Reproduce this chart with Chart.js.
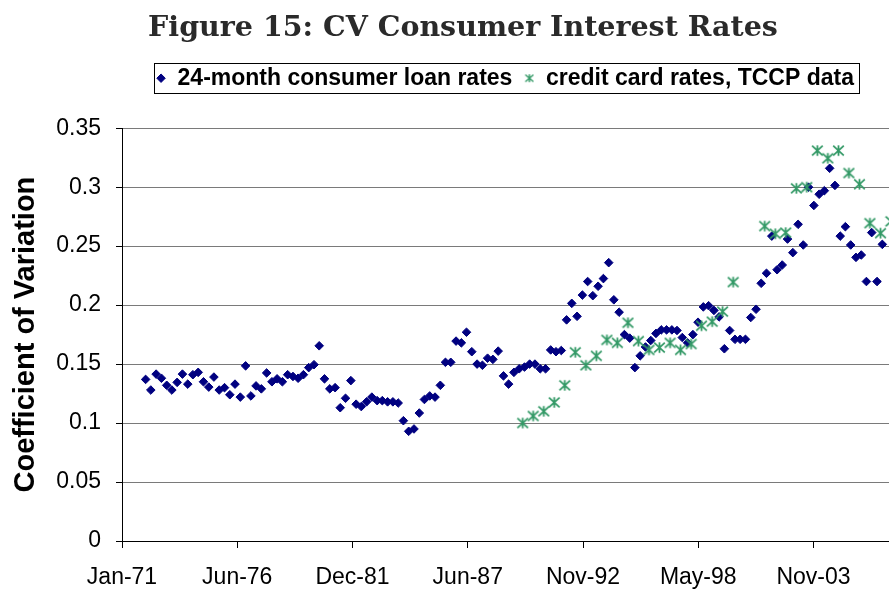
<!DOCTYPE html>
<html>
<head>
<meta charset="utf-8">
<script src="https://cdn.jsdelivr.net/npm/chart.js@4.4.1/dist/chart.umd.min.js"></script>
<style>
  body { margin: 0; background: #fff; }
</style>
</head>
<body>
<canvas id="cvChart" width="889" height="590"></canvas>
<script>
// 24-month loan rates: quarterly from Feb-72
const loanStart = [1972, 1];
const loanRates = [
  0.137, 0.128, 0.1415, 0.138, 0.132, 0.128, 0.1345, 0.1415, 0.133, 0.141,
  0.143, 0.135, 0.1305, 0.139, 0.128, 0.130, 0.124, 0.133, 0.122, 0.1485,
  0.123, 0.1315, 0.129, 0.1425, 0.135, 0.1375, 0.135, 0.141, 0.1395, 0.138,
  0.141, 0.147, 0.1495, 0.1655, 0.1375, 0.129, 0.130, 0.113, 0.121, 0.136,
  0.116, 0.114, 0.118, 0.122, 0.119, 0.119, 0.118, 0.118, 0.117, 0.102,
  0.093, 0.095, 0.1085, 0.120, 0.123, 0.122, 0.132, 0.1515, 0.1515, 0.1695,
  0.168, 0.177, 0.1605, 0.150, 0.149, 0.155, 0.154, 0.161, 0.140, 0.133,
  0.143, 0.146, 0.1475, 0.150, 0.150, 0.146, 0.146, 0.162, 0.1605, 0.1615,
  0.1875, 0.2015, 0.1905, 0.2085, 0.220, 0.208, 0.216, 0.2225, 0.236, 0.2045,
  0.194, 0.175, 0.172, 0.147, 0.157, 0.1645, 0.170, 0.176, 0.179, 0.179,
  0.179, 0.1785, 0.1725, 0.168, 0.175, 0.1855, 0.1985, 0.1995, 0.1955, 0.190,
  0.163, 0.1785, 0.171, 0.171, 0.171, 0.1895, 0.1965, 0.2185, 0.227, 0.2585,
  0.230, 0.234, 0.256, 0.2445, 0.2685, 0.251, 0.300, 0.2845, 0.294, 0.297,
  0.316, 0.3015, 0.2585, 0.2665, 0.251, 0.2405, 0.2425, 0.220, 0.2615, 0.220,
  0.2515
];

// TCCP credit card rates: Jan and Jul from Jan-90
const ccStart = [1990, 0];
const ccRates = [
  0.100, 0.106, 0.110, 0.1175, 0.132, 0.160, 0.149, 0.157, 0.1705, 0.168,
  0.185, 0.1695, 0.162, 0.164, 0.168, 0.162, 0.167, 0.1825, 0.186, 0.1945,
  0.2195, null, null, 0.267, 0.2605, 0.2615, 0.299, 0.300, 0.331, 0.3245,
  0.331, 0.312, 0.3025, 0.2695, 0.261, 0.271
];

// date axis: a label every 2000 days from 1 Jan 1971
const xTickLabels = ['Jan-71', 'Jun-76', 'Dec-81', 'Jun-87', 'Nov-92', 'May-98', 'Nov-03'];
const yTickLabels = ['0', '0.05', '0.1', '0.15', '0.2', '0.25', '0.3', '0.35'];

const DAY = 86400000;
const base = Date.UTC(1971, 0, 1);
function dayOf(y, m) {
  return Math.round((Date.UTC(y, m, 15) - base) / DAY);
}
function toPoints(start, step, vals) {
  return vals.map((v, i) => ({ x: dayOf(start[0], start[1] + i * step), y: v }));
}

// asterisk marker: vertical bar plus an X
function makeStar(color, size, lw) {
  const c = document.createElement('canvas');
  c.width = size;
  c.height = size;
  const g = c.getContext('2d');
  const m = size / 2, e = lw / 2 + 0.3;
  g.strokeStyle = color;
  g.lineWidth = lw;
  g.beginPath();
  g.moveTo(m, e); g.lineTo(m, size - e);
  g.moveTo(e, e + 0.5); g.lineTo(size - e, size - e - 0.5);
  g.moveTo(size - e, e + 0.5); g.lineTo(e, size - e - 0.5);
  g.stroke();
  return c;
}

const green = '#339966';
const navy = '#000080';
const plotStar = makeStar(green, 13, 1.8);
const legendStar = makeStar(green, 10, 1.4);
const sansFont = "'Liberation Sans', Arial, sans-serif";

// title and legend sit right of centre; legend gets a frame and room below it
const legendFrame = {
  id: 'legendFrame',
  beforeLayout(chart) {
    const lg = chart.legend;
    if (lg && !lg._padded) {
      const fit = lg.fit.bind(lg);
      lg.fit = function () { fit(); this.height += 28.5; };
      lg._padded = true;
    }
  },
  afterLayout(chart) {
    const lg = chart.legend;
    const dx = 511 - (lg.left + lg.right + 12) / 2;
    lg.left += dx;
    lg.right += dx;
    const tb = chart.titleBlock;
    tb.left += 18.5;
    tb.right += 18.5;
  },
  afterDraw(chart) {
    const hb = chart.legend.legendHitBoxes;
    if (!hb || !hb.length) return;
    const first = hb[0], last = hb[hb.length - 1];
    const x0 = Math.round(first.left - 2) + 0.5;
    const x1 = Math.round(last.left + last.width + 5) + 0.5;
    const y0 = Math.round(first.top - 4) + 0.5;
    const y1 = Math.round(first.top + first.height + 3) + 0.5;
    const ctx = chart.ctx;
    ctx.save();
    ctx.strokeStyle = '#000';
    ctx.lineWidth = 1;
    ctx.strokeRect(x0, y0, x1 - x0, y1 - y0);
    ctx.restore();
  }
};

window.addEventListener('DOMContentLoaded', () => {
  const ctx = document.getElementById('cvChart').getContext('2d');

  new Chart(ctx, {
    type: 'scatter',
    data: {
      datasets: [{
        label: '24-month consumer loan rates',
        data: toPoints(loanStart, 3, loanRates),
        pointStyle: 'rectRot',
        pointRadius: 4.3,
        borderWidth: 1,
        backgroundColor: navy,
        borderColor: navy,
        order: 1
      }, {
        label: 'credit card rates, TCCP data',
        data: toPoints(ccStart, 6, ccRates),
        pointStyle: plotStar,
        pointRadius: 6,
        backgroundColor: green,
        borderColor: green,
        order: 0
      }]
    },
    options: {
      responsive: false,
      animation: false,
      devicePixelRatio: 1,
      layout: { padding: 0, autoPadding: false },
      plugins: {
        title: {
          display: true,
          text: 'Figure 15: CV Consumer Interest Rates',
          color: '#2a2a2a',
          font: { family: "'DejaVu Serif', serif", size: 28.5, weight: 'bold' },
          padding: { top: 11, bottom: 9.5 }
        },
        legend: {
          display: true,
          position: 'top',
          align: 'center',
          labels: {
            usePointStyle: true,
            boxWidth: 10,
            boxHeight: 6,
            padding: 12,
            color: '#000',
            font: { family: sansFont, size: 23, weight: 'bold' },
            sort: (a, b) => a.datasetIndex - b.datasetIndex,
            generateLabels: (chart) => {
              const items = Chart.defaults.plugins.legend.labels.generateLabels(chart);
              items.forEach((it) => {
                if (it.datasetIndex === 1) it.pointStyle = legendStar;
              });
              return items;
            }
          }
        },
        tooltip: { enabled: false }
      },
      scales: {
        x: {
          type: 'linear',
          min: 0,
          max: 13310,
          afterFit: (scale) => { scale.height = 49; },
          afterBuildTicks: (scale) => {
            scale.ticks = xTickLabels.map((_, i) => ({ value: i * 2000 }));
          },
          ticks: {
            autoSkip: false,
            maxRotation: 0,
            padding: 16,
            color: '#000',
            font: { family: sansFont, size: 23 },
            callback: (v) => xTickLabels[Math.round(v / 2000)]
          },
          grid: { drawOnChartArea: false, drawTicks: true, tickLength: 7, color: '#000' },
          border: { color: '#000', width: 1 }
        },
        y: {
          min: 0,
          max: 0.35,
          afterFit: (scale) => { scale.width = 122; },
          ticks: {
            stepSize: 0.05,
            padding: 15,
            color: '#000',
            font: { family: sansFont, size: 23 },
            callback: (v) => yTickLabels[Math.round(v / 0.05)]
          },
          grid: { color: '#7a7a7a', tickColor: '#000', tickLength: 6, lineWidth: 1 },
          border: { color: '#000', width: 1 },
          title: {
            display: true,
            text: 'Coefficient of Variation',
            color: '#000',
            font: { family: sansFont, size: 29, weight: 'bold' },
            padding: { top: 9, bottom: 0 }
          }
        }
      }
    },
    plugins: [legendFrame]
  });
});
</script>
</body>
</html>
